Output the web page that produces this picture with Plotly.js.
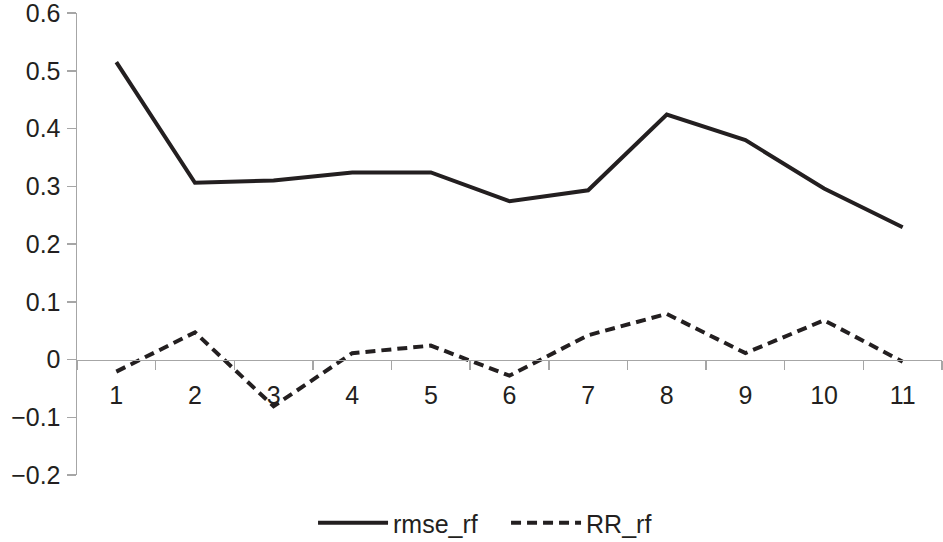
<!DOCTYPE html>
<html>
<head>
<meta charset="utf-8">
<script src="https://cdn.plot.ly/plotly-3.0.1.min.js"></script>
<style>html,body{margin:0;padding:0;background:#fff;}#chart{width:943px;height:542px;}</style>
</head>
<body>
<div id="chart"></div>
<script>
var categories = ["1","2","3","4","5","6","7","8","9","10","11"];
var rmse_rf = [0.515, 0.306, 0.310, 0.324, 0.324, 0.274, 0.293, 0.424, 0.380, 0.296, 0.229];
var RR_rf = [-0.021, 0.047, -0.081, 0.011, 0.024, -0.028, 0.042, 0.079, 0.011, 0.068, -0.004];
var yTicks = [-0.2, -0.1, 0, 0.1, 0.2, 0.3, 0.4, 0.5, 0.6];

var lineColor = '#231f20';
var traces = [
  {x: categories, y: rmse_rf, name: 'rmse_rf', type: 'scatter', mode: 'lines',
   line: {color: lineColor, width: 4}},
  {x: categories, y: RR_rf, name: 'RR_rf', type: 'scatter', mode: 'lines',
   line: {color: lineColor, width: 4, dash: '10px,6px'}}
];
var font = {family: 'Liberation Sans, Arial, sans-serif', size: 25, color: '#231f20'};
var layout = {
  width: 943, height: 542,
  margin: {l: 77, r: 1, t: 13, b: 67, autoexpand: false},
  paper_bgcolor: '#fff', plot_bgcolor: '#fff',
  font: font,
  showlegend: true,
  legend: {orientation: 'h', x: 0.496, xanchor: 'center', xref: 'paper',
           y: 0.035, yanchor: 'middle', yref: 'container',
           font: font, itemwidth: 70, tracegroupgap: 0,
           entrywidth: 108, entrywidthmode: 'pixels'},
  xaxis: {type: 'category', anchor: 'free', position: 0.25,
          showline: true, linecolor: '#a6a6a6', linewidth: 1.5,
          ticks: 'outside', tickson: 'boundaries', ticklen: 9, tickcolor: '#a6a6a6', tickwidth: 1.5,
          showgrid: false, zeroline: false, tickfont: font, ticklabelstandoff: 13,
          range: [-0.5, 10.5], fixedrange: true},
  yaxis: {range: [-0.2, 0.6], tickvals: yTicks, ticktext: yTicks.map(function(v){return v<0?'\u2212'+Math.abs(v):String(v);}),
          showline: true, linecolor: '#a6a6a6', linewidth: 1.5,
          ticks: 'outside', ticklen: 9, tickcolor: '#a6a6a6', tickwidth: 1.5,
          showgrid: false, zeroline: false, tickfont: font, ticklabelstandoff: 1,
          ticklabeloverflow: 'allow'}
};
Plotly.newPlot('chart', traces, layout, {displayModeBar: false, staticPlot: true});
</script>
</body>
</html>
